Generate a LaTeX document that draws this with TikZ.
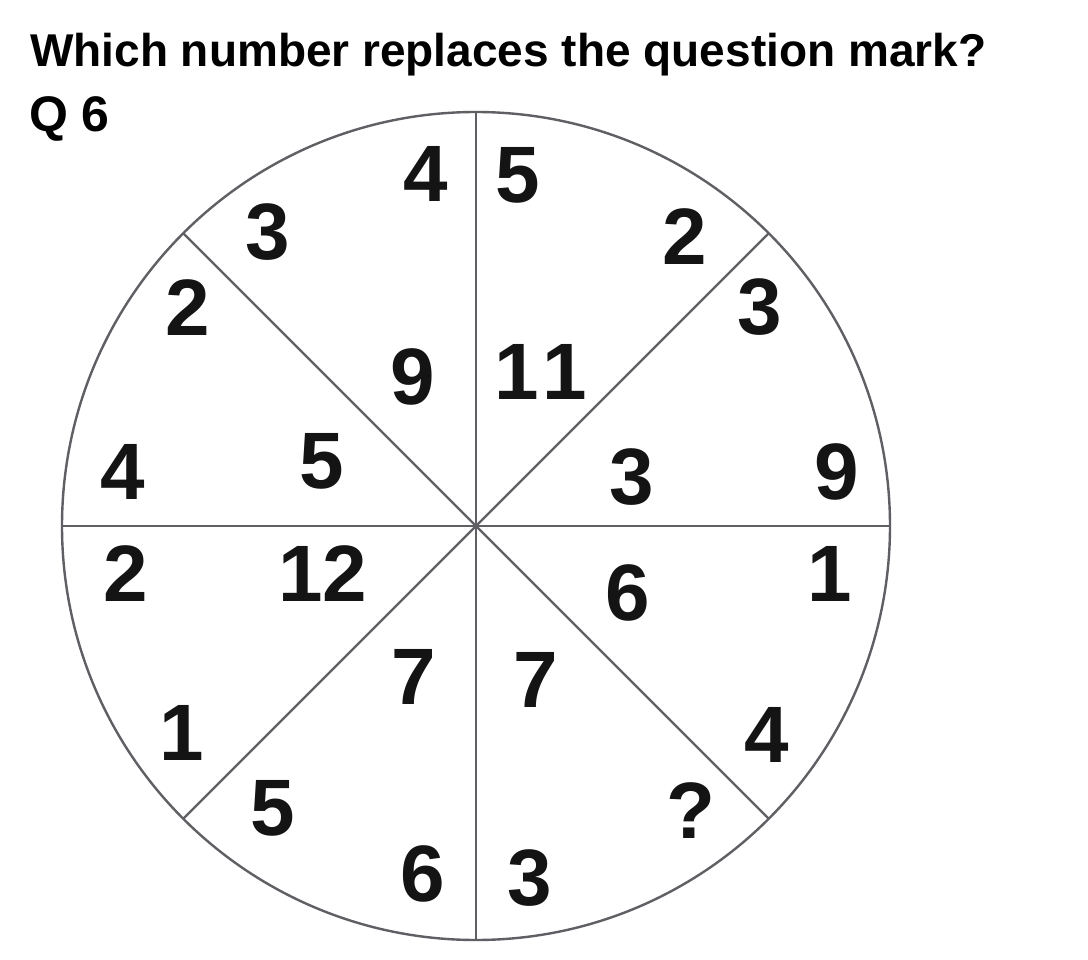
\documentclass[tikz,border=0pt]{standalone}
\usepackage{fontspec}
\setmainfont{Liberation Sans}
\definecolor{linegray}{RGB}{95,95,100}
\definecolor{ink}{RGB}{20,20,20}
\begin{document}
\begin{tikzpicture}[x=1pt,y=-1pt,
  wheel/.style={draw=linegray,line width=2.4pt},
  num/.style={inner sep=0pt,anchor=center,text=ink,font=\fontsize{80}{80}\selectfont\bfseries},
  head/.style={inner sep=0pt,anchor=base west,text=black,font=\fontsize{46}{46}\selectfont\bfseries}]
\useasboundingbox[fill=white] (0,0) rectangle (1088,960);
\node[head] (title) at (30,67) {Which number replaces the question mark?};
\node[head,font=\fontsize{50}{50}\selectfont\bfseries] (qlabel) at (29,132) {Q 6};
\coordinate (c) at (476,526);
\draw[wheel] (c) circle[radius=414];
\foreach \a in {0,45,...,315}{
  \draw[wheel] (c) -- ++(\a:414);
}
% top-left
\node[num] (a1) at (426,174) {4};
\node[num] (a2) at (268,232) {3};
\node[num] (a3) at (188,308) {2};
\node[num] (a4) at (413,377) {9};
\node[num] (a5) at (322,461) {5};
\node[num] (a6) at (123,472) {4};
% top-right
\node[num] (b1) at (518,175) {5};
\node[num] (b2) at (685,237) {2};
\node[num] (b3) at (760,307) {3};
\node[num] (b4) at (541,372) {1\kern4pt1};
\node[num] (b5) at (632,477) {3};
\node[num] (b6) at (837,472) {9};
% bottom-left
\node[num] (d1) at (126,574) {2};
\node[num] (d2) at (323,574) {12};
\node[num] (d3) at (414,677) {7};
\node[num] (d4) at (182,733) {1};
\node[num] (d5) at (273,808) {5};
\node[num] (d6) at (423,874) {6};
% bottom-right
\node[num] (e1) at (830,574) {1};
\node[num] (e2) at (628,593) {6};
\node[num] (e3) at (536,680) {7};
\node[num] (e4) at (767,735) {4};
\node[num] (e5) at (691,811) {?};
\node[num] (e6) at (530,878) {3};
\end{tikzpicture}
\end{document}
